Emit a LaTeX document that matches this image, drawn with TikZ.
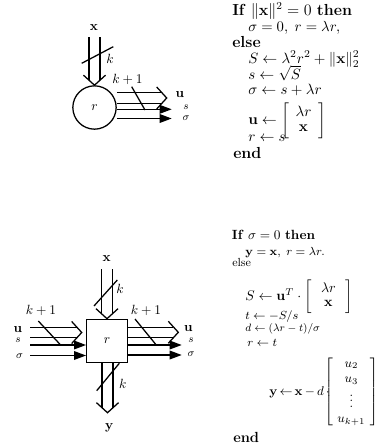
\RequirePackage{fix-cm}
\documentclass[tikz,border=0pt]{standalone}
\usepackage{amsmath,amssymb}
\usetikzlibrary{arrows.meta,calc}
\newcommand{\fsz}[1]{\fontsize{#1}{#1}\selectfont}
\begin{document}
\begin{tikzpicture}[x=0.75pt,y=-0.75pt,
  wire/.style={line width=0.95pt},
  sig/.style={line width=0.95pt,-{Triangle[length=9pt,width=6.5pt]}},
  lab/.style={inner sep=0pt},
  small/.style={inner sep=0pt,font=\footnotesize},
  algo/.style={anchor=base west,inner sep=0pt},
  algm/.style={anchor=west,inner sep=0pt},
]
\useasboundingbox (0,0) rectangle (377,446);

% ---------- top diagram ----------
\node[circle,draw,wire,minimum size=32.5pt,inner sep=0pt] (c1) at (94.5,107.5) {$r$};
\coordinate (x1s) at (94.5,37);
\draw[wire] ($(x1s)+(-5.5,0)$) -- ($(c1.north)+(-5.5,-5)$);
\draw[wire] ($(x1s)+(5.5,0)$) -- ($(c1.north)+(5.5,-5)$);
\draw[wire] ($(c1.north)+(-11,-10)$) -- (c1.north) -- ($(c1.north)+(11,-10)$);
\draw[wire] (81.7,63.3) -- (113.3,46.7);
\node[lab] (x1l) at (94,28) {$\mathbf{x}$};
\node[lab] (k1l) at (110,59.3) {$k$};

\coordinate (u1t) at (166.7,98);
\coordinate (u1s) at (c1.east |- u1t);
\draw[wire] ($(u1s)+(0,-5.5)$) -- ($(u1t)+(-5,-5.5)$);
\draw[wire] ($(u1s)+(0,5.5)$) -- ($(u1t)+(-5,5.5)$);
\draw[wire] ($(u1t)+(-10,-11)$) -- (u1t) -- ($(u1t)+(-10,11)$);
\coordinate (s1t) at (171.7,109.3);
\coordinate (g1t) at (171.7,118.5);
\draw[sig] (c1.east |- s1t) -- (s1t);
\draw[sig] (c1.east |- g1t) -- (g1t);
\draw[wire] (131.7,86.7) -- (145,110);
\node[lab] (kk1) at (127.5,79) {$k+1$};
\node[lab] (u1l) at (180,94.3) {$\mathbf{u}$};
\node[small] (s1l) at (186,107.5) {$s$};
\node[small] (g1l) at (186,118) {$\sigma$};

% ---------- bottom diagram ----------
\node[draw,wire,minimum width=30.5pt,minimum height=32.5pt,inner sep=0pt] (sq) at (107,341) {$r$};
\coordinate (x2s) at (107,269.3);
\draw[wire] ($(x2s)+(-5.5,0)$) -- ($(sq.north)+(-5.5,-5)$);
\draw[wire] ($(x2s)+(5.5,0)$) -- ($(sq.north)+(5.5,-5)$);
\draw[wire] ($(sq.north)+(-11,-10)$) -- (sq.north) -- ($(sq.north)+(11,-10)$);
\draw[wire] (94,306) -- (117.3,280);
\node[lab] (x2l) at (106.7,258.3) {$\mathbf{x}$};
\node[lab] (k2l) at (120,289.3) {$k$};

\coordinate (y2t) at (107.5,412.7);
\draw[wire] ($(sq.south)+(-5,0)$) -- ($(y2t)+(-5.5,-5)$);
\draw[wire] ($(sq.south)+(6,0)$) -- ($(y2t)+(5.5,-5)$);
\draw[wire] ($(y2t)+(-11,-10)$) -- (y2t) -- ($(y2t)+(11,-10)$);
\draw[wire] (96.7,390.7) -- (119.3,363.3);
\node[lab] (y2l) at (109.3,428.3) {$\mathbf{y}$};
\node[lab] (k3l) at (122.7,384) {$k$};

% right outputs
\coordinate (u2t) at (178.3,332.3);
\coordinate (u2s) at (sq.east |- u2t);
\draw[wire] ($(u2s)+(0,-5)$) -- ($(u2t)+(-5,-5)$);
\draw[wire] ($(u2s)+(0,5)$) -- ($(u2t)+(-5,5)$);
\draw[wire] ($(u2t)+(-10,-11)$) -- (u2t) -- ($(u2t)+(-10,11)$);
\coordinate (s2t) at (181.7,345);
\coordinate (g2t) at (181.7,355);
\draw[sig] (sq.east |- s2t) -- (s2t);
\draw[sig] (sq.east |- g2t) -- (g2t);
\draw[wire] (135,319) -- (155.7,344.3);
\node[lab] (kk2) at (146,310) {$k+1$};
\node[lab] (u2l) at (188.3,328.3) {$\mathbf{u}$};
\node[small] (s2l) at (191,340) {$s$};
\node[small] (g2l) at (191,354) {$\sigma$};

% left inputs
\coordinate (u3s) at (30,332.5);
\coordinate (u3t) at (81.7,332.5);
\draw[wire] ($(u3s)+(0,-5)$) -- ($(u3t)+(-5,-5)$);
\draw[wire] ($(u3s)+(0,5)$) -- ($(u3t)+(-5,5)$);
\draw[wire] ($(u3t)+(-10,-11)$) -- (u3t) -- ($(u3t)+(-10,11)$);
\coordinate (s3s) at (30,345);
\coordinate (g3s) at (30,355.5);
\draw[sig] (s3s) -- (sq.west |- s3s);
\draw[sig] (g3s) -- (sq.west |- g3s);
\draw[wire] (38.3,321) -- (60,344.3);
\node[lab] (kk3) at (41,310) {$k+1$};
\node[lab] (u3l) at (18,330) {$\mathbf{u}$};
\node[small] (s3l) at (18,340) {$s$};
\node[small] (g3l) at (19.5,356) {$\sigma$};

% ---------- top algorithm ----------
\node[algo,font=\fsz{12}] (a1) at (232,15.7) {\textbf{If} $\|\mathbf{x}\|^2 = 0$ \textbf{then}};
\node[algo,font=\fsz{11}] (a2) at (248,31.7) {$\sigma = 0,\; r = \lambda r,$};
\node[algo,font=\fsz{12}] (a3) at (232,47.7) {\textbf{else}};
\node[algo,font=\fsz{11.2}] (a4) at (248,63.3) {$S \leftarrow \lambda^2 r^2 + \|\mathbf{x}\|_2^2$};
\node[algo,font=\fsz{11.2}] (a5) at (248,79) {$s \leftarrow \sqrt{S}$};
\node[algo,font=\fsz{11.2}] (a6) at (248,94) {$\sigma \leftarrow s + \lambda r$};
\node[algm,font=\fsz{11.2}] (a7) at (248,121) {$\mathbf{u} \leftarrow \left[\begin{array}{@{\hspace{5pt}}c@{\hspace{5pt}}}\lambda r\\ \mathbf{x}\end{array}\right]$};
\node[algo,font=\fsz{11.2}] (a8) at (248,141.7) {$r \leftarrow s$};
\node[algo,font=\fsz{12}] (a9) at (233,158) {\textbf{end}};

% ---------- bottom algorithm ----------
\node[algo] (b1) at (231.7,239.3) {\textbf{If} $\sigma = 0$ \textbf{then}};
\node[algo,font=\fsz{8.8}] (b2) at (245,255) {$\mathbf{y} = \mathbf{x},\; r = \lambda r.$};
\node[algo,font=\fsz{8.8}] (b3) at (232,266) {else};
\node[algm,font=\fsz{10.5}] (b4) at (245,296.7) {$S \leftarrow \mathbf{u}^T\cdot\left[\begin{array}{@{\hspace{7pt}}c@{\hspace{7pt}}}\lambda r\\ \mathbf{x}\end{array}\right]$};
\node[algo,font=\fsz{8.8}] (b5) at (245,319.3) {$t \leftarrow -S/s$};
\node[algo,font=\fsz{8}] (b6) at (245,331) {$d \leftarrow (\lambda r - t)/\sigma$};
\node[algo,font=\fsz{8.8}] (b7) at (247,346) {$r \leftarrow t$};
\node[algm,font=\fsz{9.5}] (b8) at (269,392) {$\mathbf{y}\,{\leftarrow}\,\mathbf{x}\,{-}\,d\,{\cdot}$};
\node[algm,font=\fsz{9.5}] (b8m) at (324,392) {$\left[\renewcommand{\arraystretch}{1.2}\begin{array}{@{\hspace{3.5pt}}c@{\hspace{3.5pt}}}u_2\\ u_3\\ \vdots\\ u_{k+1}\end{array}\right]$};
\node[algo,font=\fsz{11}] (b9) at (233,442) {\textbf{end}};
\end{tikzpicture}
\end{document}
